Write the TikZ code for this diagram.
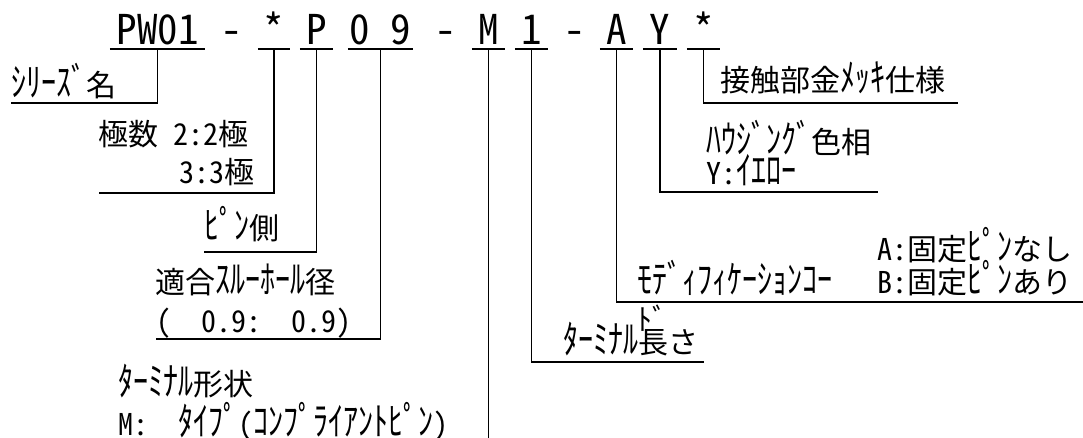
\documentclass[tikz,border=0pt]{standalone}
\usepackage{fontspec}
\usepackage{graphicx}
\setmainfont{Noto Sans CJK JP}
\newfontfamily\halfw[RawFeature=+hwid]{Noto Sans CJK JP}
\newcommand\hk[1]{\scalebox{1}[1.3]{#1}}
\usetikzlibrary{positioning}
\tikzset{code/.style={inner sep=0pt, text depth=4pt, anchor=base, font=\fontsize{41}{45}\selectfont\halfw}}
\tikzset{lbl/.style={inner sep=0pt, anchor=base west, font=\fontsize{30}{33}\selectfont}}
\tikzset{lead/.style={line width=1.9pt}}

\begin{document}
\begin{tikzpicture}[x=1pt, y=-1pt]
\useasboundingbox (0,0) rectangle (1083,438);

\node [code, minimum width=95pt] (pw) at (157.5,45) {PW01};
\node [code] (d1) at (232,45) {-};
\node [code, minimum width=32pt] (poleC) at (274,45) {*};
\node [code, minimum width=33pt] (pinC) at (316.5,45) {P};
\node [code, minimum width=65pt] (holeC) at (380.5,45) {0\hspace{21pt}9};
\node [code] (d2) at (446,45) {-};
\node [code, minimum width=33pt] (shapeC) at (488.5,45) {M};
\node [code, minimum width=33pt] (lengthC) at (531.5,45) {1};
\node [code] (d3) at (575,45) {-};
\node [code, minimum width=33pt] (modC) at (616.5,45) {A};
\node [code, minimum width=34pt] (colorC) at (660,45) {Y};
\node [code, minimum width=33pt] (platingC) at (703.5,45) {*};

\node [lbl] (series) at (11,97) {\hk{ｼﾘｰｽﾞ}名};
\node [lbl] (poles) at (98,146) {極数\hspace{.5em}{\halfw 2:2}極};
\node [lbl, anchor=base east] (poles2) at (255,184) {{\halfw 3:3}極};
\node [lbl] (pinside) at (204,240) {\hk{ﾋﾟﾝ}側};
\node [lbl] (hole) at (155,293) {適合\hk{ｽﾙｰﾎｰﾙ}径};
\node [lbl] (hole2) at (156,332) {{\halfw (}　{\halfw 0.9:}　{\halfw 0.9)}};
\node [lbl] (shape) at (118,395) {\hk{ﾀｰﾐﾅﾙ}形状};
\node [lbl] (shape2) at (118,435) {{\halfw M:}　\hk{ﾀｲﾌﾟ}{\halfw (}\hk{ｺﾝﾌﾟﾗｲｱﾝﾄﾋﾟﾝ}{\halfw )}};
\node [lbl] (length) at (563,353) {\hk{ﾀｰﾐﾅﾙ}長さ};
\node [lbl] (mod) at (637,293) {\hk{ﾓﾃﾞｨﾌｨｹｰｼｮﾝｺｰ}};
\node [lbl] (modtail) at (637,330) {ﾄﾞ};
\node [lbl] (modA) at (877,260) {{\halfw A:}固定\hk{ﾋﾟﾝ}なし};
\node [lbl] (modB) at (877,293) {{\halfw B:}固定\hk{ﾋﾟﾝ}あり};
\node [lbl] (color) at (706,154) {\hk{ﾊｳｼﾞﾝｸﾞ}色相};
\node [lbl] (color2) at (706,185) {{\halfw Y:}\hk{ｲｴﾛｰ}};
\node [lbl] (plating) at (720,92) {接触部金\hk{ﾒｯｷ}仕様};

\coordinate (pwEnd) at (11,103);
\coordinate (polesEnd) at (99,193);
\coordinate (pinEnd) at (204,252);
\coordinate (holeEnd) at (156,339);
\coordinate (shapeEnd) at (488.5,440);
\coordinate (lengthEnd) at (704,362);
\coordinate (modEnd) at (1083,302);
\coordinate (colorEnd) at (878,192);
\coordinate (platingEnd) at (958,103);

\draw [lead] (pw.south west) -- (pw.south east);
\draw [lead] (poleC.south west) -- (poleC.south east);
\draw [lead] (pinC.south west) -- (pinC.south east);
\draw [lead] (holeC.south west) -- (holeC.south east);
\draw [lead] (shapeC.south west) -- (shapeC.south east);
\draw [lead] (lengthC.south west) -- (lengthC.south east);
\draw [lead] (modC.south west) -- (modC.south east);
\draw [lead] (colorC.south west) -- (colorC.south east);
\draw [lead] (platingC.south west) -- (platingC.south east);

\draw [lead] (pw.south) |- (pwEnd);
\draw [lead] (poleC.south) |- (polesEnd);
\draw [lead] (pinC.south) |- (pinEnd);
\draw [lead] (holeC.south) |- (holeEnd);
\draw [lead] (shapeC.south) -- (shapeEnd);
\draw [lead] (lengthC.south) |- (lengthEnd);
\draw [lead] (modC.south) |- (modEnd);
\draw [lead] (colorC.south) |- (colorEnd);
\draw [lead] (platingC.south) |- (platingEnd);

\end{tikzpicture}
\end{document}
